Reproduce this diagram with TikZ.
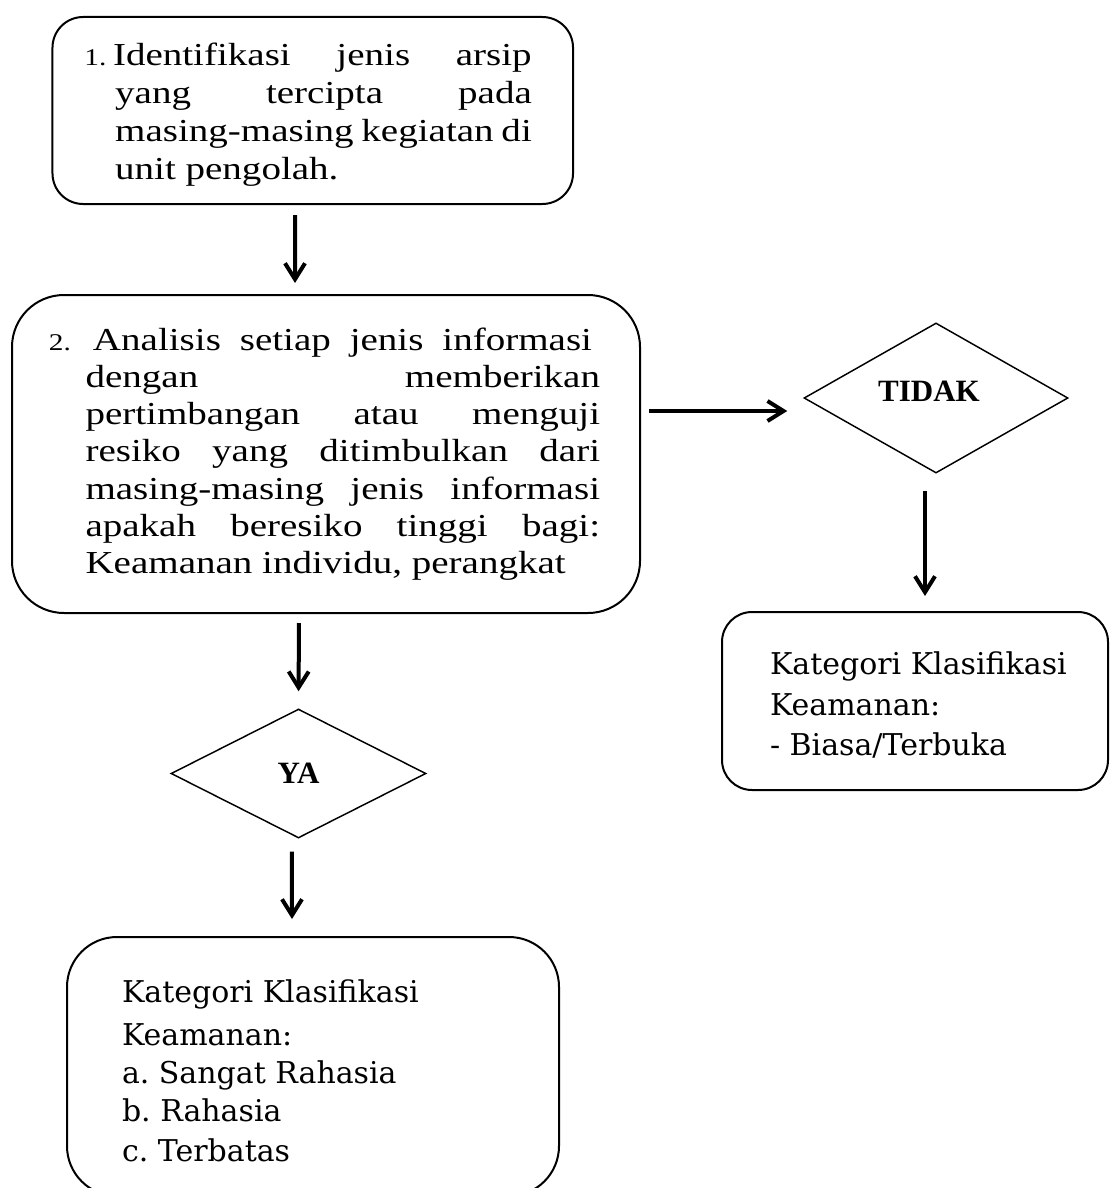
\documentclass[tikz,border=0pt]{standalone}
\usepackage{fontspec}
\setmainfont{Liberation Serif}
\newfontfamily\stepfont[FakeStretch=1.22]{Liberation Serif}
\newfontfamily\katfont{DejaVu Serif}
\usetikzlibrary{arrows.meta,shapes.geometric}
\frenchspacing

\begin{document}
\begin{tikzpicture}[x=0.75pt,y=-0.75pt,
 arr/.style={-{Straight Barb[length=12pt,width=15pt]},line width=3pt},
 box node/.style={draw,line width=1.5pt,inner sep=0pt},
 cond node/.style={draw,diamond,line width=1.1pt,inner sep=0pt,
   font=\fontsize{23.25pt}{24pt}\selectfont\bfseries}]
\useasboundingbox (0,0) rectangle (1110,1188);

\node[box node,rounded corners=23pt,minimum width=390.4pt,minimum height=140.25pt]
 (ident) at (312.75,110.5)
 {\stepfont\fontsize{24pt}{28.5pt}\selectfont
  \makebox[390.4pt][l]{\hspace*{24pt}\parbox{336.5pt}{\raggedright\vspace*{6pt}
  \makebox[21.4pt][l]{\fontsize{18pt}{18pt}\selectfont 1.}\makebox[314pt][s]{Identifikasi jenis arsip}\\
  \hspace*{23pt}\makebox[312.5pt][s]{yang tercipta pada}\\
  \hspace*{23pt}\makebox[312.5pt][s]{masing-masing kegiatan di}\\
  \hspace*{23pt}unit pengolah.}}};

\node[box node,rounded corners=39pt,minimum width=471pt,minimum height=238.5pt]
 (analisis) at (326,454)
 {\stepfont\fontsize{24pt}{27.9pt}\selectfont
  \makebox[471pt][l]{\hspace*{27.75pt}\parbox{413.3pt}{\raggedright
  \makebox[27.4pt][l]{\fontsize{18pt}{18pt}\selectfont 2.}\hspace*{5.6pt}\makebox[374.25pt][s]{Analisis setiap jenis informasi}\\
  \hspace*{27.4pt}\makebox[385.9pt][s]{dengan memberikan}\\
  \hspace*{27.4pt}\makebox[385.9pt][s]{pertimbangan atau menguji}\\
  \hspace*{27.4pt}\makebox[385.9pt][s]{resiko yang ditimbulkan dari}\\
  \hspace*{27.4pt}\makebox[385.9pt][s]{masing-masing jenis informasi}\\
  \hspace*{27.4pt}\makebox[385.9pt][s]{apakah beresiko tinggi bagi:}\\
  \hspace*{27.4pt}Keamanan individu, perangkat}}};

\node[cond node,minimum width=198pt,minimum height=110.25pt]
 (tidak) at (936,398) {\raisebox{10.5pt}{TIDAK}\hspace*{10.5pt}};

\node[cond node,minimum width=191.25pt,minimum height=96.75pt]
 (ya) at (298.5,773.5) {YA};

\node[box node,rounded corners=22.5pt,minimum width=289.5pt,minimum height=133.5pt]
 (kat2) at (915,701)
 {\katfont\fontsize{22.5pt}{30.4pt}\selectfont
  \makebox[289.5pt][l]{\hspace*{36pt}\parbox{240pt}{\raggedright\vspace*{6pt}
  Kategori Klasifikasi\\
  Keamanan:\\
  - Biasa/Terbuka}}};

\node[box node,rounded corners=37.5pt,minimum width=369pt,minimum height=194.25pt]
 (kat1) at (313,1066.5)
 {\katfont\fontsize{22.5pt}{28.5pt}\selectfont
  \makebox[369pt][l]{\hspace*{41.25pt}\parbox{300pt}{\raggedright\vspace*{6.75pt}
  Kategori Klasifikasi\\[3.75pt]
  Keamanan:\\
  a. Sangat Rahasia\\
  b. Rahasia\\[1.5pt]
  c. Terbatas}}};

\path[arr]
 ([xshift=-13.3pt]ident.south) edge[shorten <=7.5pt,shorten >=8.25pt] ([xshift=-23.25pt]analisis.north)
 ([yshift=32.25pt]analisis.east) edge[shorten <=6pt,shorten >=12pt] ([yshift=-9.75pt]tidak.west)
 ([xshift=-8.25pt]tidak.south) edge[shorten <=12.75pt,shorten >=11.25pt] ([xshift=7.5pt]kat2.north)
 ([xshift=-20.25pt]analisis.south) edge[shorten <=6.75pt,shorten >=12.75pt] (ya.north)
 ([xshift=-4.9pt]ya.south) edge[shorten <=9.75pt,shorten >=12.75pt] ([xshift=-15.75pt]kat1.north);
\end{tikzpicture}
\end{document}
